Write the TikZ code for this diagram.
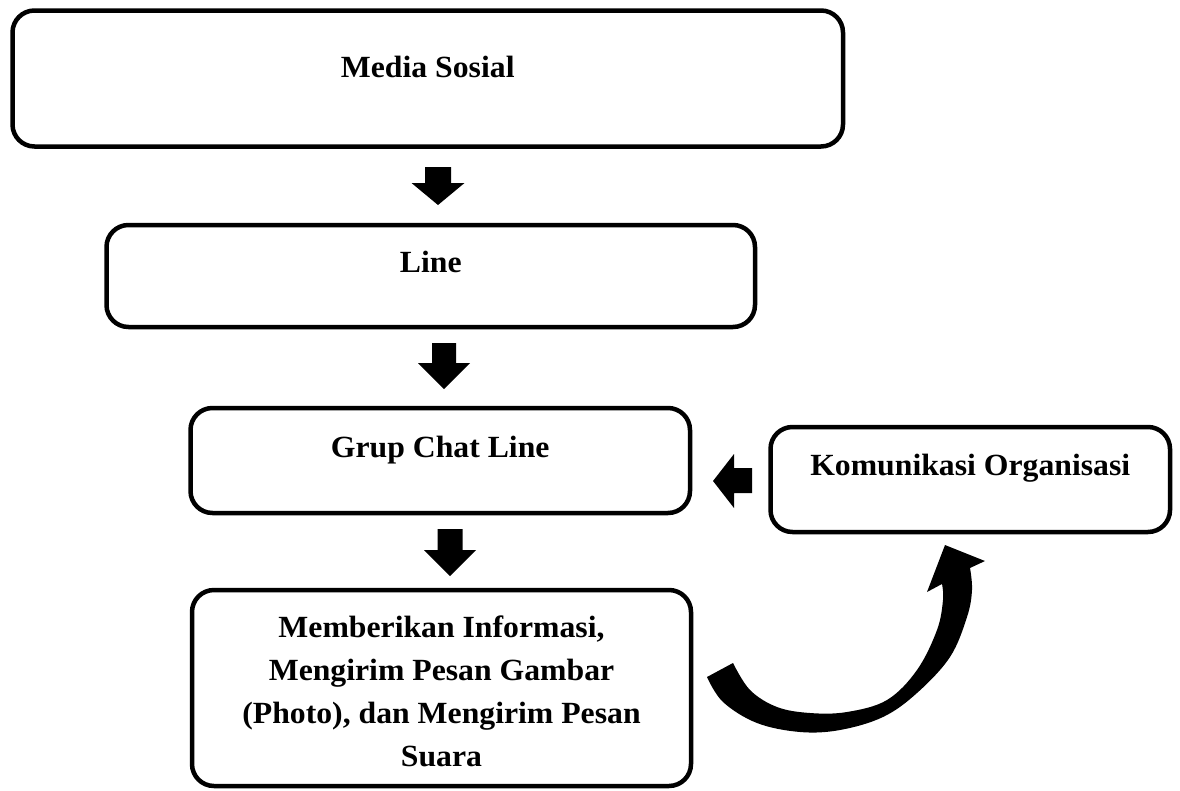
\documentclass[tikz,border=0pt]{standalone}
\usepackage{fontspec}
\setmainfont{Liberation Serif}[FakeStretch=1.03]
\usetikzlibrary{calc}
\begin{document}
\begin{tikzpicture}[x=1pt,y=-1pt,
  box/.style={draw=black, line width=4.5pt, rounded corners=22pt, inner sep=0pt, fill=white},
  txt/.style={font=\fontsize{30.8}{43}\selectfont\bfseries, inner sep=0pt, align=center},
  blk/.style={fill=black}]
\fill[white] (0,0) rectangle (1180,790);
\useasboundingbox (0,0) rectangle (1180,790);

% boxes
\node[box, minimum width=830.5pt, minimum height=136pt] (b1) at (427.75,78.5) {};
\node[box, minimum width=648.5pt, minimum height=102pt] (b2) at (430.75,276) {};
\node[box, minimum width=499.5pt, minimum height=105pt] (b3) at (440.25,460.5) {};
\node[box, minimum width=399.5pt, minimum height=105pt] (b4) at (970.25,479.5) {};
\node[box, minimum width=499pt, minimum height=196pt] (b5) at (441.5,688) {};

% texts
\node[txt, anchor=base] (t1) at (b1.center |- 0,77) {Media Sosial};
\node[txt, anchor=base] (t2) at (b2.center |- 0,272) {Line};
\node[txt, anchor=base] (t3) at (b3.center |- 0,457) {Grup Chat Line};
\node[txt, anchor=base] (t4) at (b4.center |- 0,475) {Komunikasi Organisasi};
\node[txt] (t5) at (b5.center |- 0,691.5) {Memberikan Informasi,\\Mengirim Pesan Gambar\\(Photo), dan Mengirim Pesan\\Suara};

% block arrows
\coordinate (a1) at (438,167);
\coordinate (a2) at (444,343);
\coordinate (a3) at (450,529);
\coordinate (a4) at (713,481);
\fill[blk, shift={(a1)}] (-13,0) -- (13,0) -- (13,16) -- (26.5,16) -- (0,38) -- (-26.5,16) -- (-13,16) -- cycle;
\fill[blk, shift={(a2)}] (-12,0) -- (12,0) -- (12,20) -- (26,20) -- (0,46) -- (-26,20) -- (-12,20) -- cycle;
\fill[blk, shift={(a3)}] (-12.5,0) -- (12.5,0) -- (12.5,21) -- (26,21) -- (0,47) -- (-26,21) -- (-12.5,21) -- cycle;
\fill[blk, shift={(a4)}] (0,0) -- (21,-27) -- (21,-13) -- (39,-13) -- (39,12) -- (21,12) -- (21,27) -- cycle;

% curved arrow from b5 to b4
\fill[blk] plot[smooth, tension=0.6] coordinates {(707,677) (723,702) (757,723) (800,732) (840,730) (883,717) (917,693) (950,657) (967,617) (972,590) (970,568)}
  -- (985,561) -- (945,545) -- (927,592)
  -- plot[smooth, tension=0.6] coordinates {(942,584) (943,600) (937,630) (917,670) (887,700) (847,712) (810,713) (777,707) (750,690) (733,663)}
  -- cycle;
\end{tikzpicture}
\end{document}
